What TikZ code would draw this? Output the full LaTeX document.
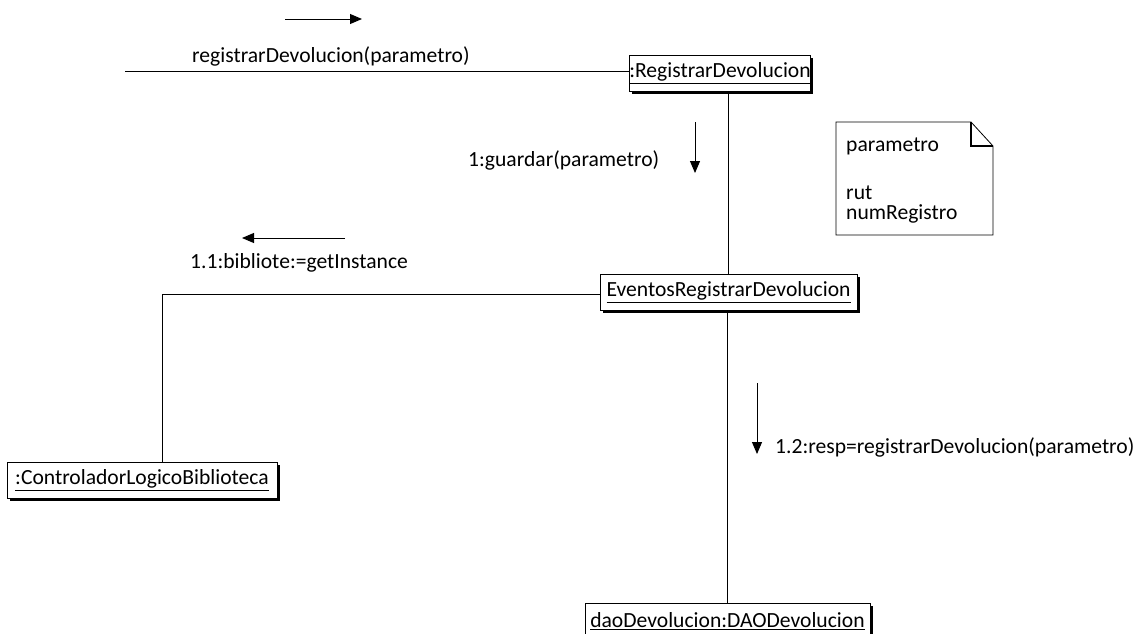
\documentclass[tikz,border=0pt]{standalone}
\usepackage{fontspec}
\setmainfont{Carlito}
\usetikzlibrary{shadows,arrows.meta}
\begin{document}
\begin{tikzpicture}[x=1pt,y=-1pt,
  font=\fontsize{21.6}{26}\selectfont,
  obj/.style={draw, line width=0.9pt, fill=white, inner sep=0pt,
    minimum height=36pt,
    drop shadow={shadow xshift=2.5pt, shadow yshift=-2.5pt, fill=black, opacity=1}},
  link/.style={line width=1pt},
  msg/.style={line width=1pt, -{Triangle[length=12pt,width=10pt]}},
  lbl/.style={inner sep=0pt, anchor=base west}]
\useasboundingbox (0,0) rectangle (1139,633);

% objects
\node[obj, minimum width=176pt] (reg) at (720,73) {\underline{:RegistrarDevolucion}};
\node[obj, minimum width=257pt] (ev) at (728.5,292) {\underline{EventosRegistrarDevolucion}};
\node[obj, minimum width=270pt] (ctrl) at (142,480) {\underline{:ControladorLogicoBiblioteca}};
\node[obj, minimum width=285pt] (dao) at (727.5,621) {\underline{daoDevolucion:DAODevolucion}};

% links
\coordinate (start) at (125,71);
\draw[link] (start) -- (start -| reg.west);
\draw[link] (reg.south -| ev.north) -- (ev.north);
\coordinate (bend) at (162,294);
\draw[link] (ev.west |- bend) -- (bend) -- (bend |- ctrl.north);
\draw[link] (ev.south -| dao.north) -- (dao.north);

% messages
\coordinate (m0a) at (285,19);  \coordinate (m0b) at (362,19);
\draw[msg] (m0a) -- (m0b);
\node[lbl] (l0) at (192,62) {registrarDevolucion(parametro)};

\coordinate (m1a) at (695,122); \coordinate (m1b) at (695,173);
\draw[msg] (m1a) -- (m1b);
\node[lbl] (l1) at (468,166) {1:guardar(parametro)};

\coordinate (m2a) at (345,238); \coordinate (m2b) at (242,238);
\draw[msg] (m2a) -- (m2b);
\node[lbl] (l2) at (190,268) {1.1:bibliote:=getInstance};

\coordinate (m3a) at (757,383); \coordinate (m3b) at (757,454);
\draw[msg] (m3a) -- (m3b);
\node[lbl] (l3) at (775,453) {1.2:resp=registrarDevolucion(parametro)};

% note
\draw[line width=0.8pt] (836,122) -- (971,122) -- (993,146) -- (993,235) -- (836,235) -- cycle;
\draw[line width=1.2pt] (971,122) -- (971,146) -- (993,146);
\node[lbl] (n1) at (846,151) {parametro};
\node[lbl] (n2) at (846,199) {rut};
\node[lbl] (n3) at (846,219) {numRegistro};
\end{tikzpicture}
\end{document}
